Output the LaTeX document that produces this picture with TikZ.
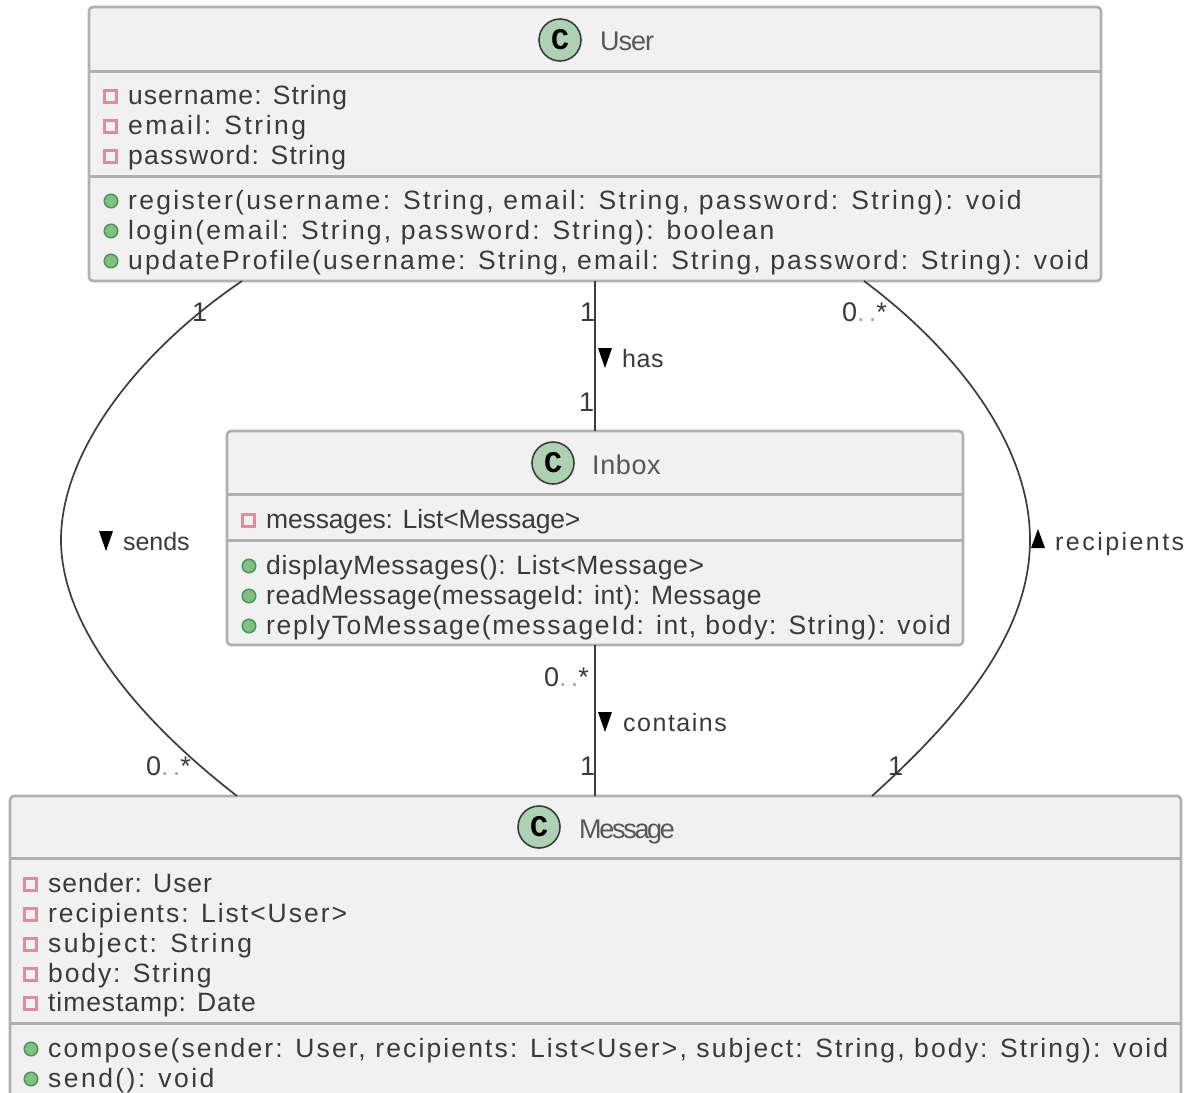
\documentclass[tikz,border=0pt]{standalone}
\usepackage{fontspec}
\setmainfont{Liberation Sans}
\newfontfamily\badgefont{Liberation Mono}
\usetikzlibrary{calc}
\definecolor{boxfill}{HTML}{F1F1F1}
\definecolor{boxline}{HTML}{B0B0B0}
\definecolor{inktext}{HTML}{3A3A3A}
\definecolor{wire}{HTML}{3C3C3C}
\definecolor{privline}{HTML}{DE8E96}
\definecolor{pubfill}{HTML}{84BE84}
\definecolor{publine}{HTML}{3F9A5C}
\definecolor{badge}{HTML}{ADD1B2}
\newcommand{\lsp}[1]{\addfontfeature{LetterSpace=#1}}
\tikzset{
 classbox/.style={draw=boxline,fill=boxfill,line width=2.6pt,rounded corners=4pt,inner sep=0pt,outer sep=0pt,anchor=north west},
 sep/.style={draw=boxline,line width=3pt},
 mem/.style={anchor=base west,inner sep=0pt,text=inktext,font=\fontsize{26.5}{30}\selectfont},
 ttl/.style={anchor=base west,inner sep=0pt,text=inktext!85,font=\fontsize{27}{30}\selectfont},
 lab/.style={anchor=base west,inner sep=0pt,text=inktext,font=\fontsize{25}{30}\selectfont},
 mult/.style={anchor=base west,inner sep=0pt,text=inktext,font=\fontsize{27}{30}\selectfont},
 wirel/.style={draw=wire,line width=1.7pt},
 priv/.style={draw=privline,fill=boxfill,line width=3.2pt},
 pub/.style={draw=publine,fill=pubfill,line width=1.5pt,circle,minimum size=13.5pt,inner sep=0pt},
 bdg/.style={draw=wire,fill=badge,line width=1.6pt,circle,minimum size=42pt,inner sep=0pt,font=\fontsize{30}{30}\selectfont\badgefont\bfseries,text=black},
 tri/.style={fill=black},
}
\newcommand{\privm}[4]{% x, baseline y, letter space, text
 \draw[priv] (#1-6.5,#2-13.5) rectangle (#1+5.5,#2-1.5);
 \node[mem] at (#1+17,#2) {\lsp{#3}#4};}
\newcommand{\pubm}[4]{%
 \node[pub] at (#1,#2-8) {};
 \node[mem] at (#1+17,#2) {\lsp{#3}#4};}
\newcommand{\manystar}{0{\color{inktext!45}..}*}
\begin{document}
\begin{tikzpicture}[x=1pt,y=-1pt]
\useasboundingbox (0,0) rectangle (1195,1093);
\clip (0,0) rectangle (1195,1093);
\fill[white] (0,0) rectangle (1195,1093);
% classes
\node[classbox,minimum width=1012pt,minimum height=274pt] (user) at (89,7) {};
\node[classbox,minimum width=736pt,minimum height=214pt] (inbox) at (227,431) {};
\node[classbox,minimum width=1171pt,minimum height=330pt] (message) at (10,796) {};
% connectors
\draw[wirel] ($(user.south west)+(153,0)$) .. controls (140,350) and (61,450) .. (61,540) .. controls (61,630) and (145,725) .. ($(message.north west)+(227,0)$);
\draw[wirel] (user.south) -- (inbox.north);
\draw[wirel] (inbox.south) -- (inbox.south |- message.north);
\draw[wirel] ($(user.south west)+(775,0)$) .. controls (950,345) and (1030,440) .. (1030,540) .. controls (1030,630) and (965,712) .. ($(message.north west)+(862,0)$);
% user
\draw[sep] (user.west |- 0,71) -- (user.east |- 0,71);
\draw[sep] (user.west |- 0,176) -- (user.east |- 0,176);
\node[bdg] (ubadge) at (560,40) {C};
\node[ttl] (utitle) at (600,50) {\lsp{-3.7}User};
\privm{111}{104}{3.9}{username: String}
\privm{111}{134}{9.4}{email: String}
\privm{111}{164}{4.8}{password: String}
\pubm{111}{209}{8.8}{register(username: String, email: String, password: String): void}
\pubm{111}{239}{8.5}{login(email: String, password: String): boolean}
\pubm{111}{269}{8.1}{updateProfile(username: String, email: String, password: String): void}
% inbox
\draw[sep] (inbox.west |- 0,494) -- (inbox.east |- 0,494);
\draw[sep] (inbox.west |- 0,540) -- (inbox.east |- 0,540);
\node[bdg] (ibadge) at (553,463) {C};
\node[ttl] (ititle) at (592,474) {\lsp{2.2}Inbox};
\privm{249}{528}{-0.6}{messages: List<Message>}
\pubm{249}{574}{2.5}{displayMessages(): List<Message>}
\pubm{249}{604}{2}{readMessage(messageId: int): Message}
\pubm{249}{634}{6.15}{replyToMessage(messageId: int, body: String): void}
% message
\draw[sep] (message.west |- 0,858) -- (message.east |- 0,858);
\draw[sep] (message.west |- 0,1023) -- (message.east |- 0,1023);
\node[bdg] (mbadge) at (539,827) {C};
\node[ttl] (mtitle) at (579,838) {\lsp{-8.5}Message};
\privm{31}{892}{3.5}{sender: User}
\privm{31}{922}{7.45}{recipients: List<User>}
\privm{31}{952}{9.5}{subject: String}
\privm{31}{982}{7.1}{body: String}
\privm{31}{1011}{3.5}{timestamp: Date}
\pubm{31}{1057}{8.05}{compose(sender: User, recipients: List<User>, subject: String, body: String): void}
\pubm{31}{1087}{9.25}{send(): void}
% labels
\fill[tri] (598,348) -- (612,348) -- (605,368) -- cycle;
\node[lab] (has) at (622,367) {\lsp{2.3}has};
\fill[tri] (99,531) -- (113,531) -- (106,551) -- cycle;
\node[lab] (sends) at (123,550) {\lsp{-0.3}sends};
\fill[tri] (1031,548) -- (1045,548) -- (1038,529) -- cycle;
\node[lab] (recip) at (1055,550) {\lsp{9.8}recipients};
\fill[tri] (598,712) -- (612,712) -- (605,732) -- cycle;
\node[lab] (contains) at (623,731) {\lsp{6}contains};
% multiplicities
\node[mult] (m1) at (192,321) {1};
\node[mult] (m2) at (580,321) {1};
\node[mult] (m3) at (579,411) {1};
\node[mult] (m4) at (842,321) {\lsp{15}\manystar};
\node[mult] (m5) at (544,686) {\lsp{15}\manystar};
\node[mult] (m6) at (580,775) {1};
\node[mult] (m7) at (146,775) {\lsp{15}\manystar};
\node[mult] (m8) at (888,775) {1};
\end{tikzpicture}
\end{document}
